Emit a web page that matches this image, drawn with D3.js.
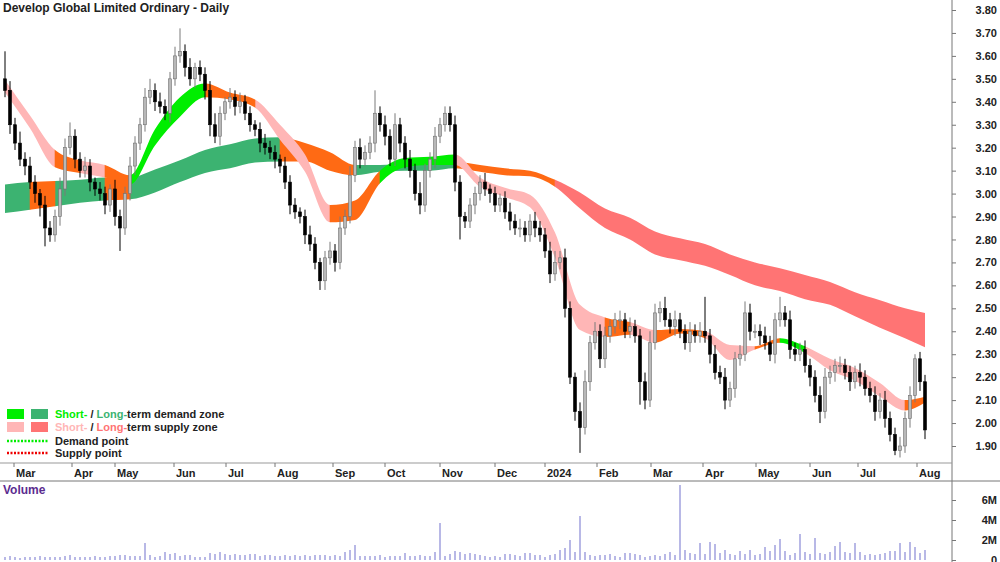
<!DOCTYPE html>
<html>
<head>
<meta charset="utf-8">
<script src="https://cdn.jsdelivr.net/npm/d3@7"></script>
<style>
  body { margin: 0; background: #fff; }
  svg text { font-family: "Liberation Sans", Arial, sans-serif; font-weight: bold; }
</style>
</head>
<body>
<svg id="chart" width="1000" height="562"></svg>
<script>
// daily closes (one candle per ~2 trading days)
var closes = [
  3.45,3.30,3.22,3.15,3.12,3.05,3.00,2.95,2.85,2.82,
  2.90,3.02,3.20,3.25,3.15,3.10,3.12,3.05,3.02,3.00,
  2.95,3.02,2.90,2.85,3.00,3.12,3.22,3.30,3.42,3.45,
  3.40,3.38,3.35,3.50,3.60,3.62,3.55,3.50,3.55,3.52,
  3.45,3.30,3.25,3.35,3.40,3.42,3.38,3.40,3.35,3.30,
  3.28,3.22,3.20,3.18,3.15,3.12,3.05,2.95,2.92,2.90,
  2.82,2.78,2.70,2.62,2.72,2.75,2.70,2.85,2.90,3.08,
  3.20,3.15,3.18,3.22,3.35,3.30,3.25,3.15,3.30,3.22,
  3.15,3.10,3.00,2.95,3.10,3.15,3.25,3.30,3.35,3.30,
  3.05,2.90,2.88,2.95,3.00,3.05,3.02,3.00,2.95,2.98,
  2.92,2.88,2.85,2.85,2.82,2.88,2.85,2.82,2.75,2.65,
  2.70,2.72,2.50,2.20,2.05,1.98,2.18,2.35,2.40,2.28,
  2.38,2.42,2.45,2.45,2.40,2.42,2.38,2.18,2.10,2.35,
  2.48,2.50,2.45,2.42,2.45,2.40,2.35,2.40,2.38,2.40,
  2.38,2.30,2.22,2.20,2.10,2.15,2.28,2.30,2.48,2.40,
  2.40,2.38,2.35,2.30,2.45,2.48,2.45,2.32,2.30,2.32,
  2.25,2.20,2.12,2.05,2.20,2.22,2.25,2.25,2.22,2.18,
  2.22,2.20,2.15,2.12,2.05,2.10,2.02,1.95,1.88,1.90,
  2.02,2.12,2.28,2.18,1.97
];
var firstOpen = 3.50;
// wick lengths above / below the body, in cents
var hiWick = [
  12,4,3,5,3,4,3,2,4,3, 3,5,4,6,3,3,4,3,2,3, 3,2,4,3,3,4,3,3,4,5, 3,4,3,3,4,10,3,4,2,3,
  3,4,5,3,2,4,3,4,3,3, 2,3,4,3,3,2,4,3,3,2, 3,4,3,2,3,4,3,5,3,4, 3,4,3,3,10,3,4,3,5,3,
  3,4,3,5,3,3,4,3,3,3, 4,3,2,3,3,3,4,2,3,2, 3,4,3,4,3,3,4,3,3,4, 5,3,4,3,2,4,5,3,4,3,
  4,3,3,4,3,4,3,3,4,5, 4,3,5,3,4,3,3,4,3,4, 15,3,4,3,4,3,3,4,5,4, 3,3,4,3,3,7,3,4,3,3,
  4,3,3,4,4,3,3,4,3,3, 3,4,3,3,4,3,4,3,3,4, 3,4,2,3,3
];
var loWick = [
  3,4,3,3,4,3,4,5,8,3, 3,4,3,3,4,3,3,4,3,3, 4,3,4,10,3,3,4,3,3,3, 4,3,3,4,3,3,4,3,4,3,
  4,5,3,4,3,3,4,3,3,3, 3,4,3,3,4,3,3,4,3,3, 4,3,3,4,4,3,4,3,3,3, 3,4,3,3,4,3,4,3,3,4,
  4,3,3,4,3,3,4,3,3,3, 4,10,3,3,4,3,3,4,3,3, 3,4,3,4,3,3,4,3,3,4, 3,3,4,3,4,11,3,4,3,4,
  4,3,3,4,3,3,3,10,4,3, 3,4,3,3,4,3,3,4,3,3, 3,4,3,3,4,3,4,3,3,4, 3,4,3,3,4,3,3,4,3,3,
  3,4,3,5,3,3,4,3,3,4, 3,4,3,3,4,3,4,3,2,3, 3,4,3,4,4
];
// volume in millions
var volumes = [
  .3,.4,.3,.2,.3,.3,.3,.4,.3,.3, .3,.3,.4,.5,.3,.3,.3,.3,.4,.3, .3,.4,.4,.5,.5,.4,.4,.4,1.7,.5,
  .3,.4,.8,.6,.7,.4,.5,.5,.3,.3, .3,.7,.6,.8,.6,.5,.6,.5,.5,.6, .6,.4,.5,.5,.4,.4,.5,.4,.5,.4,
  .5,.4,.5,.5,.5,.4,.5,.4,.8,1.0, 1.5,.4,.4,.4,.4,.5,.3,.4,.4,.4, .7,.4,.4,.5,.4,.4,.8,3.7,.4,.6,
  .9,.8,.6,.7,.6,.5,.4,.3,.4,.3, .6,.6,.5,.4,.7,.7,.5,.5,.3,.5, .6,1.0,1.2,2.0,.8,4.4,.8,.5,.4,.5,
  .5,.6,.4,.3,.7,.7,.6,.5,.3,.4, .5,.4,.6,.8,.5,7.5,1.0,.7,.6,1.7, .6,1.8,1.6,.7,1.0,.6,.5,.9,.6,1.0,
  .5,.6,1.3,.9,1.5,2.1,.9,.5,.7,2.6, .8,.6,2.2,.7,.6,.8,1.4,1.8,.8,.7, 1.7,.8,.5,.6,.5,.6,.7,.9,.9,1.7,
  .8,1.8,1.3,.7,1.0
];

// zone bands, one point every 5 candles (last one at the final candle)
var bandIndex = [0,5,10,15,20,25,30,35,40,45,50,55,60,65,70,75,80,85,90,95,100,105,110,115,120,125,130,135,140,145,150,155,160,165,170,175,180,184];
var longTop = [3.04,3.05,3.055,3.06,3.07,3.07,3.105,3.145,3.19,3.215,3.24,3.245,3.22,3.18,3.125,3.125,3.13,3.145,3.14,3.125,3.11,3.10,3.06,3.005,2.935,2.895,2.835,2.805,2.78,2.735,2.70,2.675,2.645,2.615,2.57,2.535,2.50,2.48];
var longBot = [2.915,2.93,2.945,2.96,2.97,2.975,3.005,3.05,3.09,3.11,3.135,3.14,3.14,3.10,3.08,3.095,3.10,3.10,3.11,3.095,3.08,3.075,3.03,2.935,2.85,2.80,2.735,2.71,2.685,2.645,2.60,2.575,2.54,2.515,2.465,2.415,2.37,2.33];
// zone per segment: G = demand, M = mixed, S/P = supply
var longZone = "GMGGMGGGGGGMMMGGGGMMMMSSSSSSSSSSSSSSS";
var shortTop = [3.495,3.34,3.19,3.145,3.125,3.08,3.28,3.42,3.48,3.44,3.41,3.30,3.17,2.95,2.97,3.10,3.155,3.16,3.17,3.07,3.025,2.995,2.83,2.515,2.46,2.44,2.405,2.41,2.40,2.34,2.335,2.37,2.335,2.28,2.24,2.175,2.10,2.115];
var shortBot = [3.44,3.285,3.115,3.09,3.07,3.04,3.21,3.335,3.42,3.41,3.375,3.235,3.095,2.875,2.885,3.045,3.115,3.125,3.125,3.03,2.985,2.94,2.72,2.405,2.375,2.385,2.35,2.39,2.37,2.275,2.32,2.35,2.305,2.23,2.185,2.115,2.055,2.09];
var shortZone = "PPMPMGGGMMPPPMMGGGPPPPPPMPMMPPMGPPPPM";

var priceTicks = [3.8,3.7,3.6,3.5,3.4,3.3,3.2,3.1,3.0,2.9,2.8,2.7,2.6,2.5,2.4,2.3,2.2,2.1,2.0,1.9];
var volTicks = [0,2,4,6];
var monthLabels = ["Mar","Apr","May","Jun","Jul","Aug","Sep","Oct","Nov","Dec","2024","Feb","Mar","Apr","May","Jun","Jul","Aug"];
var monthAt = [1.8,13.4,22,33.8,44.2,54,65.6,76,87,98,108,118.4,129.2,139.6,150.2,161,170.6,182.4];

var colors = {
  shortG: "#00ee00", longG: "#3cb371", shortP: "#ffb6b6", longS: "#ff7474", mix: "#ff6a14"
};

var svg = d3.select("#chart");
var plotRight = 952;

var x = d3.scaleLinear().domain([0, closes.length - 1]).range([5, 925]);
var y = d3.scaleLinear().domain([1.9, 3.8]).range([446, 10]);
var yv = d3.scaleLinear().domain([0, 6]).range([560, 500]);

// build candles
var candles = closes.map(function(c, i) {
    var o = i === 0 ? firstOpen : closes[i - 1];
    return {
        i: i, o: o, c: c,
        h: Math.max(o, c) + hiWick[i] / 100,
        l: Math.min(o, c) - loWick[i] / 100
    };
});

// bands with per-colour clipping
function drawBand(top, bot, zones, colourOf, id) {
    var pts = bandIndex.map(function(b, j) { return { i: b, t: top[j], b: bot[j] }; });
    var area = d3.area()
        .x(function(d) { return x(d.i); })
        .y0(function(d) { return y(d.b); })
        .y1(function(d) { return y(d.t); })
        .curve(d3.curveMonotoneX);
    var codes = Array.from(new Set(zones.split("")));
    codes.forEach(function(code) {
        var clipId = id + code;
        var cp = svg.append("clipPath").attr("id", clipId);
        for (var j = 0; j < zones.length; j++) {
            if (zones[j] !== code) continue;
            cp.append("rect")
                .attr("x", x(bandIndex[j]) - 0.3)
                .attr("width", x(bandIndex[j + 1]) - x(bandIndex[j]) + 0.6)
                .attr("y", 0).attr("height", 462);
        }
        svg.append("path").datum(pts)
            .attr("d", area)
            .attr("fill", colourOf[code])
            .attr("clip-path", "url(#" + clipId + ")");
    });
}

drawBand(longTop, longBot, longZone, { G: colors.longG, M: colors.mix, S: colors.longS }, "lz");
drawBand(shortTop, shortBot, shortZone, { G: colors.shortG, M: colors.mix, P: colors.shortP }, "sz");

// candles
var cg = svg.append("g");
cg.selectAll("line").data(candles).enter().append("line")
    .attr("x1", function(d) { return x(d.i); })
    .attr("x2", function(d) { return x(d.i); })
    .attr("y1", function(d) { return y(d.h); })
    .attr("y2", function(d) { return y(d.l); })
    .attr("stroke", function(d) { return d.c >= d.o ? "#7a7a7a" : "#000"; })
    .attr("stroke-width", 1);
cg.selectAll("rect").data(candles).enter().append("rect")
    .attr("x", function(d) { return x(d.i) - 1.5; })
    .attr("width", 3)
    .attr("y", function(d) { return y(Math.max(d.o, d.c)); })
    .attr("height", function(d) { return Math.max(1, Math.abs(y(d.o) - y(d.c))); })
    .attr("fill", function(d) { return d.c >= d.o ? "#b8b8b8" : "#000"; })
    .attr("stroke", function(d) { return d.c >= d.o ? "#707070" : "#000"; })
    .attr("stroke-width", 0.6);

// volume
svg.append("g").selectAll("rect").data(volumes).enter().append("rect")
    .attr("x", function(d, i) { return x(i) - 0.6; })
    .attr("width", 1.2)
    .attr("y", function(d) { return yv(d); })
    .attr("height", function(d) { return yv(0) - yv(d); })
    .attr("fill", "#8a8ad6");

// frame lines
svg.append("line").attr("x1", plotRight).attr("x2", plotRight).attr("y1", 0).attr("y2", 562).attr("stroke", "#777");
svg.append("line").attr("x1", 0).attr("x2", plotRight).attr("y1", 463).attr("y2", 463).attr("stroke", "#999");
svg.append("line").attr("x1", 0).attr("x2", 1000).attr("y1", 481).attr("y2", 481).attr("stroke", "#777");

// price axis
var pa = svg.append("g").attr("transform", "translate(" + plotRight + ",0)")
    .call(d3.axisRight(y).tickValues(priceTicks).tickFormat(d3.format(".2f")).tickSize(4));
pa.select(".domain").remove();
pa.selectAll("line").attr("stroke", "#777");
pa.selectAll("text").attr("x", 45).attr("text-anchor", "end").style("font-size", "11px").attr("fill", "#222");

// volume axis
var va = svg.append("g").attr("transform", "translate(" + plotRight + ",0)")
    .call(d3.axisRight(yv).tickValues(volTicks).tickFormat(function(d) { return d ? d + "M" : "0"; }).tickSize(4));
va.select(".domain").remove();
va.selectAll("line").attr("stroke", "#777");
va.selectAll("text").attr("x", 45).attr("text-anchor", "end").style("font-size", "11px").attr("fill", "#222");

// month axis
var mg = svg.append("g");
monthLabels.forEach(function(m, k) {
    var mx = x(monthAt[k]);
    mg.append("line").attr("x1", mx).attr("x2", mx).attr("y1", 463).attr("y2", 467).attr("stroke", "#777");
    mg.append("text").attr("x", mx + 2).attr("y", 477).style("font-size", "11px").attr("fill", "#222").text(m);
});

// title
svg.append("text").attr("x", 3).attr("y", 12).style("font-size", "12px").attr("fill", "#222")
    .text("Develop Global Limited Ordinary - Daily");
svg.append("text").attr("x", 3).attr("y", 494).style("font-size", "12px").attr("fill", "#5b2c8f").text("Volume");

// legend
var lg = svg.append("g").style("font-size", "11px");
lg.append("rect").attr("x", 7).attr("y", 409).attr("width", 17).attr("height", 10).attr("fill", colors.shortG);
lg.append("rect").attr("x", 31).attr("y", 409).attr("width", 17).attr("height", 10).attr("fill", colors.longG);
lg.append("rect").attr("x", 7).attr("y", 422).attr("width", 17).attr("height", 10).attr("fill", colors.shortP);
lg.append("rect").attr("x", 31).attr("y", 422).attr("width", 17).attr("height", 10).attr("fill", colors.longS);
lg.append("line").attr("x1", 7).attr("x2", 48).attr("y1", 441).attr("y2", 441)
    .attr("stroke", "#00ee00").attr("stroke-width", 2.5).attr("stroke-dasharray", "2,1.5");
lg.append("line").attr("x1", 7).attr("x2", 48).attr("y1", 453).attr("y2", 453)
    .attr("stroke", "#ee0000").attr("stroke-width", 2.5).attr("stroke-dasharray", "2,1.5");
var t1 = lg.append("text").attr("x", 55).attr("y", 418);
t1.append("tspan").attr("fill", colors.shortG).text("Short-");
t1.append("tspan").attr("fill", "#222").text(" / ");
t1.append("tspan").attr("fill", colors.longG).text("Long-");
t1.append("tspan").attr("fill", "#222").text("term demand zone");
var t2 = lg.append("text").attr("x", 55).attr("y", 431);
t2.append("tspan").attr("fill", colors.shortP).text("Short-");
t2.append("tspan").attr("fill", "#222").text(" / ");
t2.append("tspan").attr("fill", colors.longS).text("Long-");
t2.append("tspan").attr("fill", "#222").text("term supply zone");
lg.append("text").attr("x", 55).attr("y", 445).attr("fill", "#222").text("Demand point");
lg.append("text").attr("x", 55).attr("y", 457).attr("fill", "#222").text("Supply point");
</script>
</body>
</html>
